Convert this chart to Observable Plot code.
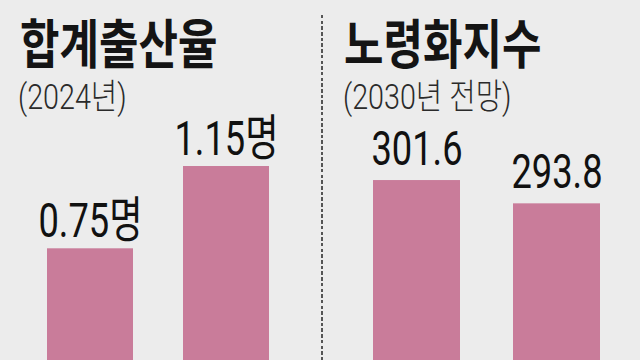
<!DOCTYPE html>
<html>
<head>
<meta charset="utf-8">
<script src="https://cdn.jsdelivr.net/npm/d3@7"></script>
<script src="https://cdn.jsdelivr.net/npm/@observablehq/plot@0.6"></script>
<style>
  html, body { margin: 0; padding: 0; }
  body { width: 640px; height: 360px; background: #ececec; overflow: hidden; position: relative; }
  .title { position: absolute; font-family: "Noto Sans CJK KR", sans-serif; font-weight: 700; font-size: 53px; line-height: 53px; color: #141414; transform: scaleX(0.81); transform-origin: 0 0; white-space: nowrap; }
  .sub { position: absolute; font-family: Roboto, "Noto Sans CJK KR", sans-serif; font-weight: 300; font-size: 35px; line-height: 35px; color: #2a2a2a; transform: scaleX(0.82); transform-origin: 0 0; white-space: nowrap; }
  .panel { position: absolute; top: 115px; width: 320px; height: 245px; }
  .sep { position: absolute; left: 321px; top: 15px; width: 2px; height: 345px;
         background: repeating-linear-gradient(to bottom, #555 0 3.5px, transparent 3.5px 5.7px); }
</style>
</head>
<body>
<div class="title" style="left:20px; top:15px;">합계출산율</div>
<div class="sub" style="left:18px; top:80px;">(2024년)</div>
<div class="title" style="left:344px; top:15px;">노령화지수</div>
<div class="sub" style="left:343px; top:80px;">(2030년 전망)</div>
<div class="sep"></div>
<div class="panel" id="left" style="left:0px;"></div>
<div class="panel" id="right" style="left:320px;"></div>
<script>
// Data
const leftCats = ["항목1", "항목2"];
const leftValues = [0.75, 1.15];
const leftUnit = "명";
const rightCats = ["항목1", "항목2"];
const rightValues = [301.6, 293.8];

const barColor = "#c97c9a";
const leftData = leftCats.map((c, i) => ({cat: c, value: leftValues[i]}));
const rightData = rightCats.map((c, i) => ({cat: c, value: rightValues[i]}));

const labelStyle = {fontSize: 49, fontFamily: "Roboto, 'Noto Sans CJK KR', sans-serif", fontWeight: 400, fill: "#111", lineAnchor: "bottom"};

const leftPlot = Plot.plot({
  width: 320, height: 245,
  marginTop: 0, marginBottom: 0, marginLeft: 19.4, marginRight: 22.7,
  x: {domain: leftCats, paddingInner: 0.367, paddingOuter: 0.2, axis: null},
  y: {domain: [0.207, 1.398], clamp: true, axis: null},
  style: {background: "transparent", overflow: "visible"},
  marks: [
    Plot.barY(leftData, {x: "cat", y: "value", fill: barColor}),
    Plot.text(leftData, {x: "cat", y: "value", text: d => d.value.toFixed(2) + leftUnit, dy: -12, ...labelStyle})
  ]
});

const rightPlot = Plot.plot({
  width: 320, height: 245,
  marginTop: 0, marginBottom: 0, marginLeft: 24.7, marginRight: 11.9,
  x: {domain: rightCats, paddingInner: 0.376, paddingOuter: 0.2, axis: null},
  y: {domain: [241.3, 323.4], clamp: true, axis: null},
  style: {background: "transparent", overflow: "visible"},
  marks: [
    Plot.barY(rightData, {x: "cat", y: "value", fill: barColor}),
    Plot.text(rightData, {x: "cat", y: "value", text: d => d.value.toFixed(1), dy: -16, ...labelStyle})
  ]
});

document.getElementById("left").appendChild(leftPlot);
document.getElementById("right").appendChild(rightPlot);

// condense the value labels horizontally
document.querySelectorAll('g[aria-label="text"] text').forEach(t => {
  const w = t.getComputedTextLength();
  t.setAttribute("textLength", (w * 0.74).toFixed(1));
  t.setAttribute("lengthAdjust", "spacingAndGlyphs");
});
</script>
</body>
</html>
